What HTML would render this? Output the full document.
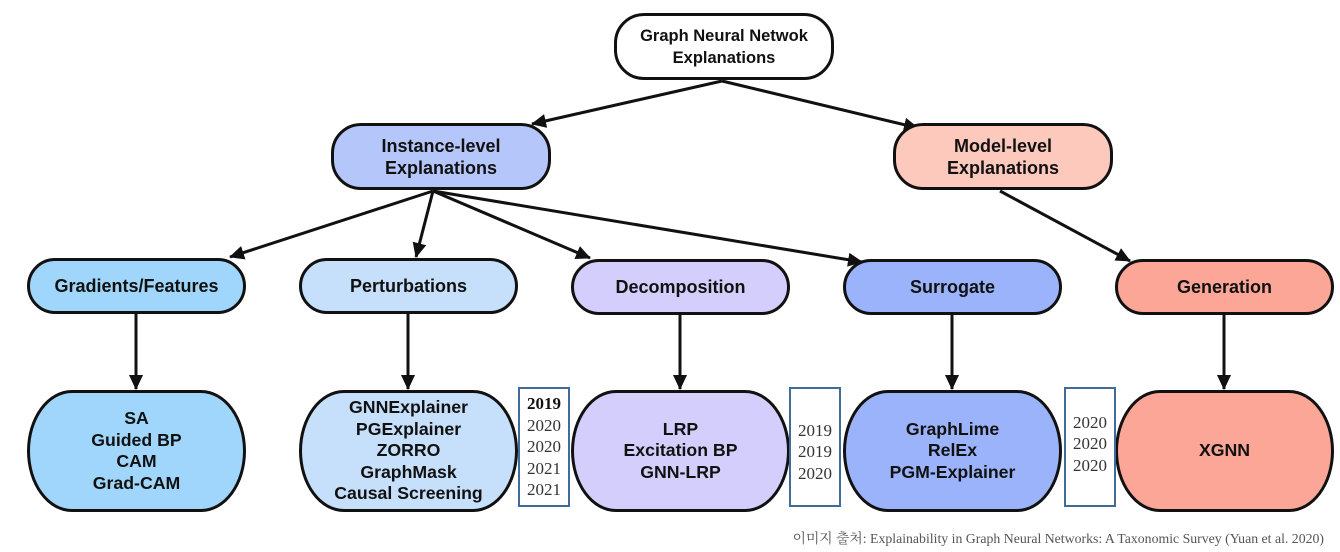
<!DOCTYPE html>
<html><head><meta charset="utf-8"><style>
body{margin:0;width:1340px;height:552px;background:#fff;position:relative;overflow:hidden;font-family:"Liberation Sans",Arial,sans-serif}
.n{position:absolute;box-sizing:border-box;border:3px solid #111;display:flex;align-items:center;justify-content:center;text-align:center;font-weight:bold;font-size:18px;line-height:22px;color:#111}
.p{border-radius:30px}
.b{border-radius:45px/50%;font-size:17.7px;line-height:21.5px}
.y{position:absolute;box-sizing:border-box;border:2px solid #3f6c98;font-family:"Liberation Serif",serif;font-size:17px;line-height:21.5px;color:#333;text-align:center;display:flex;flex-direction:column;justify-content:center}
.c{position:absolute;right:16px;top:527px;font-family:"Liberation Serif","Noto Serif CJK SC",serif;font-size:13.8px;color:#555}
svg{position:absolute;left:0;top:0}
</style></head><body>
<svg width="1340" height="552"><defs>
<marker id="h" markerWidth="16" markerHeight="16" refX="14" refY="7" orient="auto" markerUnits="userSpaceOnUse"><path d="M0,0 L15,7 L0,14 Z" fill="#111"/></marker></defs>
<g stroke="#111" stroke-width="3" fill="none" marker-end="url(#h)">
<line x1="722" y1="81" x2="532" y2="124"/>
<line x1="722" y1="81" x2="918" y2="128"/>
<line x1="433" y1="191" x2="230" y2="257"/>
<line x1="433" y1="191" x2="416" y2="257"/>
<line x1="433" y1="191" x2="590" y2="258"/>
<line x1="433" y1="191" x2="862" y2="262"/>
<line x1="1000" y1="191" x2="1130" y2="261"/>
<line x1="136" y1="313" x2="136" y2="389"/>
<line x1="408" y1="313" x2="408" y2="389"/>
<line x1="680" y1="315" x2="680" y2="389"/>
<line x1="952" y1="315" x2="952" y2="389"/>
<line x1="1224" y1="315" x2="1224" y2="389"/>
</g></svg>
<div class="n p" style="left:614px;top:13px;width:220px;height:67px;background:#fff;font-size:16.5px">Graph Neural Netwok<br>Explanations</div>
<div class="n p" style="left:331px;top:123px;width:220px;height:67px;background:#b4c6fa">Instance-level<br>Explanations</div>
<div class="n p" style="left:893px;top:123px;width:220px;height:67px;background:#fdc9bd">Model-level<br>Explanations</div>
<div class="n p" style="left:27px;top:258px;width:219px;height:56px;background:#a0d6fb">Gradients/Features</div>
<div class="n p" style="left:299px;top:258px;width:219px;height:56px;background:#c6dffb">Perturbations</div>
<div class="n p" style="left:571px;top:259px;width:219px;height:56px;background:#d3cefb">Decomposition</div>
<div class="n p" style="left:843px;top:259px;width:219px;height:56px;background:#9bb3fb">Surrogate</div>
<div class="n p" style="left:1115px;top:259px;width:219px;height:56px;background:#fba697">Generation</div>
<div class="n b" style="left:27px;top:390px;width:219px;height:122px;background:#a0d6fb">SA<br>Guided BP<br>CAM<br>Grad-CAM</div>
<div class="n b" style="left:299px;top:390px;width:219px;height:122px;background:#c6dffb">GNNExplainer<br>PGExplainer<br>ZORRO<br>GraphMask<br>Causal Screening</div>
<div class="n b" style="left:571px;top:390px;width:219px;height:122px;background:#d3cefb">LRP<br>Excitation BP<br>GNN-LRP</div>
<div class="n b" style="left:843px;top:390px;width:219px;height:122px;background:#9bb3fb">GraphLime<br>RelEx<br>PGM-Explainer</div>
<div class="n b" style="left:1115px;top:390px;width:219px;height:122px;background:#fba697">XGNN</div>
<div class="y" style="left:518px;top:387px;width:52px;height:120px"><b style="color:#111">2019</b>2020<br>2020<br>2021<br>2021</div>
<div class="y" style="left:789px;top:387px;width:52px;height:120px;padding-top:10px">2019<br>2019<br>2020</div>
<div class="y" style="left:1064px;top:387px;width:52px;height:120px;padding-bottom:6px">2020<br>2020<br>2020</div>
<div class="c">이미지 출처: Explainability in Graph Neural Networks: A Taxonomic Survey (Yuan et al. 2020)</div>
</body></html>
